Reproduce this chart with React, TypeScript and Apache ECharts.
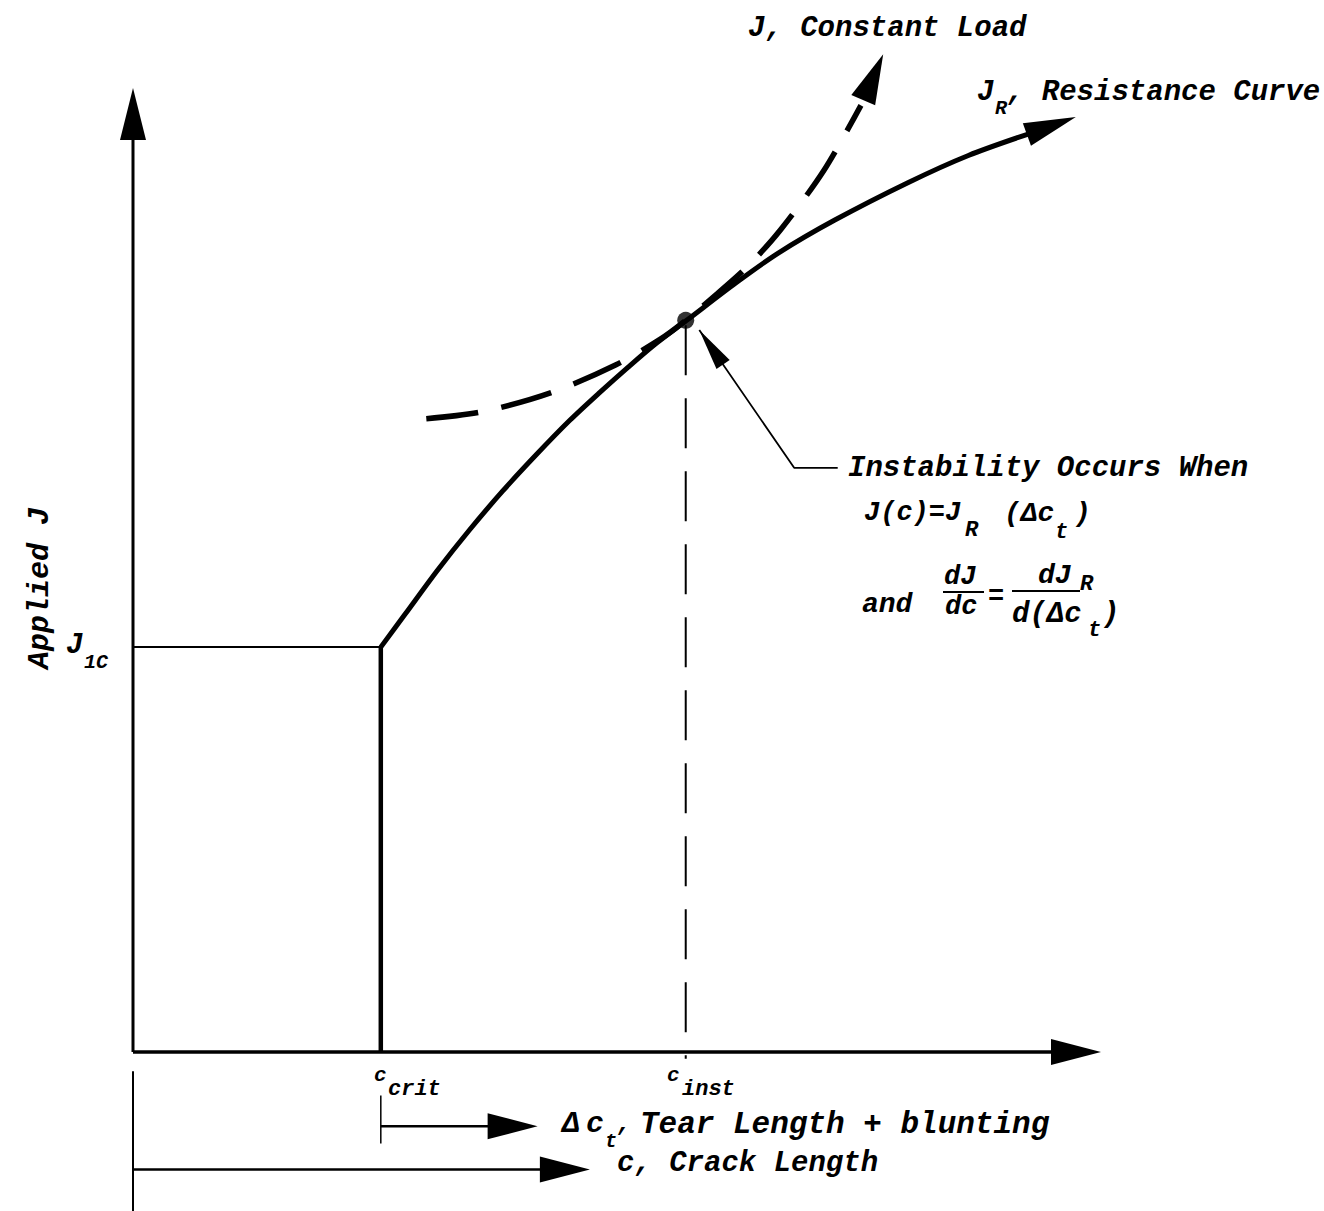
import React, { useEffect, useRef } from "react";
import * as echarts from "echarts";

// ---- data (x: crack length units, y: J units; both axes span 0..100) ----
const C_CRIT = 25.6;
const C_INST = 57.1;
const J_IC = 42.0;
const J_INST = 75.9;

const resistanceCurve: number[][] = [
  [25.6, 42.0], [28.1, 45.4], [31.4, 49.9], [34.8, 54.2], [38.2, 58.2],
  [41.7, 62.0], [45.1, 65.5], [48.2, 68.4], [51.1, 71.0], [53.9, 73.4],
  [57.2, 75.9], [62.3, 79.8], [66.7, 82.9], [72.5, 86.3], [80.1, 90.2],
  [86.3, 93.0], [92.7, 95.3],
];
const resistanceTip = [97.4, 97.0];

const constantLoadCurve: number[][] = [
  [30.3, 65.7], [36.0, 66.4], [43.2, 68.4], [49.9, 71.3], [54.4, 73.9],
  [57.1, 75.9], [60.4, 78.7], [63.6, 81.6], [66.9, 85.3], [71.4, 91.5],
  [75.2, 98.2],
];
const constantLoadTip = [77.5, 103.5];

const yAxisLine = [[0, 0], [0, 96]];
const yAxisTip = [0, 100];
const xAxisLine = [[0, 0], [96, 0]];
const xAxisTip = [100, 0];

const jicLine = [[-1.45, J_IC], [C_CRIT, J_IC]];
const critVertical = [[C_CRIT, 0], [C_CRIT, J_IC]];
const instVertical = [[C_INST, 75.4], [C_INST, -0.7]];

const leaderLine = [[72.8, 60.6], [68.3, 60.6], [58.5, 74.9]];

const originRef = [[0, -2.0], [0, -16.6]];
const critTick = [[C_CRIT, -4.5], [C_CRIT, -9.5]];
const tearLine = [[C_CRIT, -7.7], [38, -7.7]];
const tearTip = [41.8, -7.7];
const crackLine = [[0, -12.2], [44, -12.2]];
const crackTip = [47.2, -12.2];

// ---- styling helpers ----
const FONT = '"Liberation Mono", "DejaVu Sans Mono", monospace';

function lineSeries(data: number[][], width: number, type: any = "solid", smooth: any = false) {
  return {
    type: "line",
    data,
    symbol: "none",
    clip: false,
    silent: true,
    smooth,
    lineStyle: { color: "#000", width, type, cap: "butt" },
    z: 3,
  };
}

function arrowSeries(from: number[], tip: number[], len: number, half: number) {
  return {
    type: "custom",
    clip: false,
    silent: true,
    z: 4,
    data: [[from[0], from[1], tip[0], tip[1]]],
    renderItem: (params: any, api: any) => {
      const a = api.coord([api.value(0), api.value(1)]);
      const b = api.coord([api.value(2), api.value(3)]);
      const dx = b[0] - a[0];
      const dy = b[1] - a[1];
      const d = Math.hypot(dx, dy) || 1;
      const ux = dx / d;
      const uy = dy / d;
      const bx = b[0] - ux * len;
      const by = b[1] - uy * len;
      return {
        type: "polygon",
        shape: {
          points: [
            [b[0], b[1]],
            [bx - uy * half, by + ux * half],
            [bx + uy * half, by - ux * half],
          ],
        },
        style: { fill: "#000" },
      };
    },
  };
}

function txt(text: string, x: number, y: number, size: number, extra: any = {}) {
  return {
    type: "text",
    x,
    y,
    rotation: extra.rotation || 0,
    silent: true,
    style: {
      text,
      fontFamily: FONT,
      fontSize: size,
      fontStyle: "italic",
      fontWeight: "bold",
      fill: "#000",
      align: extra.align || "left",
      verticalAlign: "middle",
    },
  };
}

function bar(x1: number, x2: number, y: number) {
  return {
    type: "line",
    silent: true,
    shape: { x1, y1: y, x2, y2: y },
    style: { stroke: "#000", lineWidth: 2 },
  };
}

export default function App() {
  const ref = useRef<HTMLDivElement>(null);

  useEffect(() => {
    if (!ref.current) return;
    const chart = echarts.init(ref.current, undefined, { renderer: "svg" });
    const option: any = {
      animation: false,
      backgroundColor: "#fff",
      grid: { left: 133, right: 223, top: 88, bottom: 159 },
      xAxis: { type: "value", min: 0, max: 100, show: false },
      yAxis: { type: "value", min: 0, max: 100, show: false },
      series: [
        lineSeries(yAxisLine, 3),
        arrowSeries([0, 90], yAxisTip, 52, 13),
        lineSeries(xAxisLine, 3.5),
        arrowSeries([90, 0], xAxisTip, 50, 13),
        lineSeries(jicLine, 2),
        lineSeries(critVertical, 4.5),
        lineSeries(instVertical, 2, [50, 23]),
        { ...lineSeries(resistanceCurve, 5, "solid", 0.3), z: 5 },
        { ...arrowSeries(resistanceCurve[resistanceCurve.length - 1], resistanceTip, 52, 12), z: 5 },
        { ...lineSeries(constantLoadCurve, 5.5, [52, 24], 0.3), z: 5 },
        { ...arrowSeries(constantLoadCurve[constantLoadCurve.length - 1], constantLoadTip, 50, 13), z: 5 },
        {
          type: "scatter",
          data: [[C_INST, J_INST]],
          symbol: "circle",
          symbolSize: 17,
          itemStyle: { color: "#000" },
          silent: true,
          z: 6,
        },
        lineSeries(leaderLine, 1.8),
        arrowSeries(leaderLine[1], leaderLine[2], 42, 8),
        lineSeries(originRef, 2),
        lineSeries(critTick, 1.5),
        lineSeries(tearLine, 2.5),
        arrowSeries([30, -7.7], tearTip, 50, 13),
        lineSeries(crackLine, 2.5),
        arrowSeries([30, -12.2], crackTip, 50, 13),
      ],
      graphic: [
        txt("J, Constant Load", 748, 28, 29),
        txt("J", 977, 92, 29),
        txt("R", 995, 108, 20),
        txt(", Resistance Curve", 1007, 92, 29),
        txt("Applied J", 40, 588, 30, { align: "center", rotation: Math.PI / 2 }),
        txt("J", 66, 645, 29),
        txt("1C", 84, 662, 20),
        txt("Instability Occurs When", 848, 468, 29),
        txt("J(c)=J", 864, 513, 27),
        txt("R", 965, 530, 22),
        txt("(Δc", 1004, 513, 28),
        txt("t", 1055, 532, 22),
        txt(")", 1074, 513, 28),
        txt("and", 862, 604, 28),
        txt("dJ", 944, 577, 27),
        bar(943, 984, 592),
        txt("dc", 945, 607, 27),
        txt("=", 996, 597, 27, { align: "center" }),
        txt("dJ", 1038, 575, 28),
        txt("R", 1080, 584, 22),
        bar(1012, 1080, 591),
        txt("d(Δc", 1012, 614, 29),
        txt("t", 1088, 630, 22),
        txt(")", 1102, 614, 29),
        txt("c", 374, 1075, 21),
        txt("crit", 388, 1089, 22),
        txt("c", 667, 1075, 21),
        txt("inst", 682, 1089, 22),
        txt("Δ", 562, 1124, 30),
        txt("c", 586, 1124, 30),
        txt("t", 605, 1141, 20),
        txt(",", 617, 1124, 24),
        txt("Tear Length + blunting", 640, 1124, 31),
        txt("c, Crack Length", 617, 1163, 29),
      ],
    };
    chart.setOption(option);
    return () => chart.dispose();
  }, []);

  return (
    <div
      ref={ref}
      style={{ position: "absolute", left: 0, top: 0, width: 1324, height: 1211, background: "#fff" }}
    />
  );
}
